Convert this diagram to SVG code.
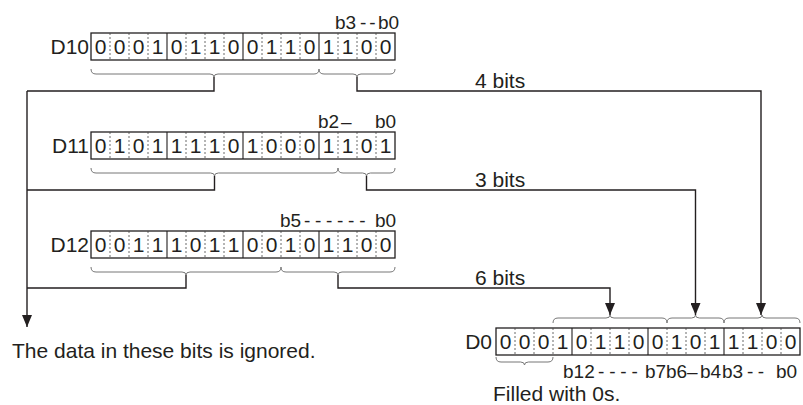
<svg xmlns="http://www.w3.org/2000/svg" width="803" height="405" viewBox="0 0 803 405">
<style>
.t{font-family:"Liberation Sans",Arial,sans-serif;font-size:21px;fill:#231f20}
.l{font-family:"Liberation Sans",Arial,sans-serif;font-size:19px;fill:#231f20}
.d{text-anchor:middle}
.box{fill:#fff;stroke:#231f20;stroke-width:1.3}
.sep{stroke:#231f20;stroke-width:1.1}
.dash{stroke:#444;stroke-width:0.8;stroke-dasharray:2 2}
.brace{fill:none;stroke:#777;stroke-width:1}
.con{fill:none;stroke:#231f20;stroke-width:1.4}
</style>
<defs>
<marker id="ah" markerUnits="userSpaceOnUse" markerWidth="12" markerHeight="10" refX="12" refY="5" orient="auto" viewBox="0 0 12 10">
<path d="M0,0 L12,5 L0,10 z" fill="#231f20"/>
</marker>
</defs>
<rect width="803" height="405" fill="#fff"/>

<g id="D10">
<text class="t" x="89" y="54" text-anchor="end">D10</text>
<rect class="box" x="91" y="33" width="304" height="27"/>
<path class="sep" d="M167,33V60M243,33V60M319,33V60"/>
<path class="dash" d="M110,33V60M129,33V60M148,33V60M186,33V60M205,33V60M224,33V60M262,33V60M281,33V60M300,33V60M338,33V60M357,33V60M376,33V60"/>
<g class="t d">
<text x="100.5" y="54">0</text><text x="119.5" y="54">0</text><text x="138.5" y="54">0</text><text x="157.5" y="54">1</text>
<text x="176.5" y="54">0</text><text x="195.5" y="54">1</text><text x="214.5" y="54">1</text><text x="233.5" y="54">0</text>
<text x="252.5" y="54">0</text><text x="271.5" y="54">1</text><text x="290.5" y="54">1</text><text x="309.5" y="54">0</text>
<text x="328.5" y="54">1</text><text x="347.5" y="54">1</text><text x="366.5" y="54">0</text><text x="385.5" y="54">0</text>
</g>
<text class="l" y="29"><tspan x="335">b3</tspan><tspan x="360" letter-spacing="3">--</tspan><tspan x="378">b0</tspan></text>
<path class="brace" d="M91,69q0,5 5,5H210q4,0 4,3q0,-3 4,-3H314q5,0 5,-5"/>
<path class="brace" d="M319,69q0,5 5,5H353q4,0 4,3q0,-3 4,-3H390q5,0 5,-5"/>
</g>

<g id="D11">
<text class="t" x="89" y="153" text-anchor="end">D11</text>
<rect class="box" x="91" y="132" width="304" height="27"/>
<path class="sep" d="M167,132V159M243,132V159M319,132V159"/>
<path class="dash" d="M110,132V159M129,132V159M148,132V159M186,132V159M205,132V159M224,132V159M262,132V159M281,132V159M300,132V159M338,132V159M357,132V159M376,132V159"/>
<g class="t d">
<text x="100.5" y="153">0</text><text x="119.5" y="153">1</text><text x="138.5" y="153">0</text><text x="157.5" y="153">1</text>
<text x="176.5" y="153">1</text><text x="195.5" y="153">1</text><text x="214.5" y="153">1</text><text x="233.5" y="153">0</text>
<text x="252.5" y="153">1</text><text x="271.5" y="153">0</text><text x="290.5" y="153">0</text><text x="309.5" y="153">0</text>
<text x="328.5" y="153">1</text><text x="347.5" y="153">1</text><text x="366.5" y="153">0</text><text x="385.5" y="153">1</text>
</g>
<text class="l" y="128"><tspan x="318">b2</tspan><tspan x="341">–</tspan><tspan x="375">b0</tspan></text>
<path class="brace" d="M91,168q0,5 5,5H210.5q4,0 4,3q0,-3 4,-3H333q5,0 5,-5"/>
<path class="brace" d="M338,168q0,5 5,5H362.5q4,0 4,3q0,-3 4,-3H390q5,0 5,-5"/>
</g>

<g id="D12">
<text class="t" x="89" y="252" text-anchor="end">D12</text>
<rect class="box" x="91" y="231" width="304" height="27"/>
<path class="sep" d="M167,231V258M243,231V258M319,231V258"/>
<path class="dash" d="M110,231V258M129,231V258M148,231V258M186,231V258M205,231V258M224,231V258M262,231V258M281,231V258M300,231V258M338,231V258M357,231V258M376,231V258"/>
<g class="t d">
<text x="100.5" y="252">0</text><text x="119.5" y="252">0</text><text x="138.5" y="252">1</text><text x="157.5" y="252">1</text>
<text x="176.5" y="252">1</text><text x="195.5" y="252">0</text><text x="214.5" y="252">1</text><text x="233.5" y="252">1</text>
<text x="252.5" y="252">0</text><text x="271.5" y="252">0</text><text x="290.5" y="252">1</text><text x="309.5" y="252">0</text>
<text x="328.5" y="252">1</text><text x="347.5" y="252">1</text><text x="366.5" y="252">0</text><text x="385.5" y="252">0</text>
</g>
<text class="l" y="227"><tspan x="280">b5</tspan><tspan x="304" letter-spacing="4.7">------</tspan><tspan x="375">b0</tspan></text>
<path class="brace" d="M91,267q0,5 5,5H182q4,0 4,3q0,-3 4,-3H276q5,0 5,-5"/>
<path class="brace" d="M281,267q0,5 5,5H334q4,0 4,3q0,-3 4,-3H390q5,0 5,-5"/>
</g>

<g id="D0">
<text class="t" x="492" y="349" text-anchor="end">D0</text>
<rect class="box" x="496" y="328" width="304" height="27"/>
<path class="sep" d="M572,328V355M648,328V355M724,328V355"/>
<path class="dash" d="M515,328V355M534,328V355M553,328V355M591,328V355M610,328V355M629,328V355M667,328V355M686,328V355M705,328V355M743,328V355M762,328V355M781,328V355"/>
<g class="t d">
<text x="505.5" y="349">0</text><text x="524.5" y="349">0</text><text x="543.5" y="349">0</text><text x="562.5" y="349">1</text>
<text x="581.5" y="349">0</text><text x="600.5" y="349">1</text><text x="619.5" y="349">1</text><text x="638.5" y="349">0</text>
<text x="657.5" y="349">0</text><text x="676.5" y="349">1</text><text x="695.5" y="349">0</text><text x="714.5" y="349">1</text>
<text x="733.5" y="349">1</text><text x="752.5" y="349">1</text><text x="771.5" y="349">0</text><text x="790.5" y="349">0</text>
</g>
<path class="brace" d="M553,323q0,-5 5,-5H606q4,0 4,-3q0,3 4,3H662q5,0 5,5"/>
<path class="brace" d="M667,323q0,-5 5,-5H691.5q4,0 4,-3q0,3 4,3H719q5,0 5,5"/>
<path class="brace" d="M724,323q0,-5 5,-5H758q4,0 4,-3q0,3 4,3H795q5,0 5,5"/>
<path class="brace" d="M496,357q0,5 5,5H520.5q4,0 4,3q0,-3 4,-3H548q5,0 5,-5"/>
<text class="l" y="378"><tspan x="563">b12</tspan><tspan x="598" letter-spacing="4.8">----</tspan><tspan x="645">b7</tspan><tspan x="666">b6</tspan><tspan x="687">–</tspan><tspan x="700">b4</tspan><tspan x="722">b3</tspan><tspan x="747" letter-spacing="4.5">--</tspan><tspan x="776">b0</tspan></text>
<text class="t" x="493" y="401">Filled with 0s.</text>
</g>

<g id="connectors">
<path class="con" d="M214,77V91H27"/>
<path class="con" d="M357,77V91H761V315" marker-end="url(#ah)"/>
<path class="con" d="M214.5,176V190H27"/>
<path class="con" d="M366.5,176V190H695.5V315" marker-end="url(#ah)"/>
<path class="con" d="M186,275V288H27"/>
<path class="con" d="M338,275V288H610V315" marker-end="url(#ah)"/>
<path class="con" d="M27,91V327" marker-end="url(#ah)"/>
</g>

<g id="labels">
<text class="t" x="475" y="88">4 bits</text>
<text class="t" x="475" y="187">3 bits</text>
<text class="t" x="475" y="285">6 bits</text>
<text class="t" x="12" y="358">The data in these bits is ignored.</text>
</g>
</svg>
